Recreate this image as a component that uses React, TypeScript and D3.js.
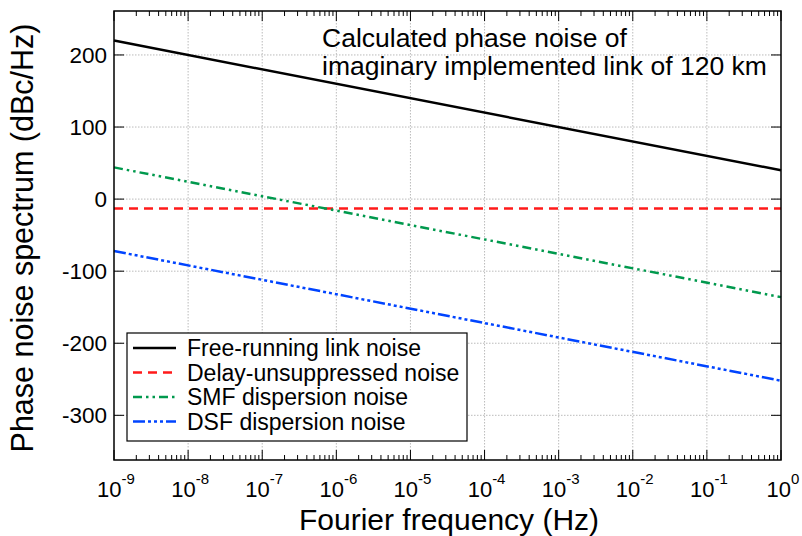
import React, { useEffect, useRef } from "react";
import * as d3 from "d3";

const freqs = [1e-9, 1e0];
const freeRunning = [220, 40];
const delayUnsuppressed = [-13, -13];
const smfDispersion = [44, -136];
const dsfDispersion = [-72, -252];
const xTicks = [-9, -8, -7, -6, -5, -4, -3, -2, -1, 0];
const yTicks = [-300, -200, -100, 0, 100, 200];
const seriesNames = [
  "Free-running link noise",
  "Delay-unsuppressed noise",
  "SMF dispersion noise",
  "DSF dispersion noise",
];

const W = 802, H = 536;
const M = { left: 114, right: 781, top: 11, bottom: 460 };

export default function App() {
  const ref = useRef<SVGSVGElement>(null);
  useEffect(() => {
    const svg = d3.select(ref.current);
    svg.selectAll("*").remove();
    const x = d3.scaleLog().domain([1e-9, 1]).range([M.left, M.right]);
    const y = d3.scaleLinear().domain([-362, 261]).range([M.bottom, M.top]);
    const font = "'Liberation Sans', Arial, sans-serif";

    // grid
    const g = svg.append("g");
    xTicks.slice(1, -1).forEach((e) => {
      g.append("line").attr("x1", x(10 ** e)).attr("x2", x(10 ** e))
        .attr("y1", M.top).attr("y2", M.bottom)
        .attr("stroke", "#aaa").attr("stroke-width", 0.8).attr("stroke-dasharray", "1.5,1.5");
    });
    yTicks.forEach((v) => {
      g.append("line").attr("x1", M.left).attr("x2", M.right)
        .attr("y1", y(v)).attr("y2", y(v))
        .attr("stroke", "#aaa").attr("stroke-width", 0.8).attr("stroke-dasharray", "1.5,1.5");
    });

    // ticks
    const t = svg.append("g").attr("stroke", "#000").attr("stroke-width", 1);
    for (let e = -9; e <= 0; e++) {
      const xv = x(10 ** e);
      t.append("line").attr("x1", xv).attr("x2", xv).attr("y1", M.bottom).attr("y2", M.bottom - 10);
      t.append("line").attr("x1", xv).attr("x2", xv).attr("y1", M.top).attr("y2", M.top + 10);
      if (e < 0) {
        for (let k = 2; k <= 9; k++) {
          const xm = x(k * 10 ** e);
          t.append("line").attr("x1", xm).attr("x2", xm).attr("y1", M.bottom).attr("y2", M.bottom - 5);
          t.append("line").attr("x1", xm).attr("x2", xm).attr("y1", M.top).attr("y2", M.top + 5);
        }
      }
    }
    yTicks.forEach((v) => {
      t.append("line").attr("x1", M.left).attr("x2", M.left + 10).attr("y1", y(v)).attr("y2", y(v));
      t.append("line").attr("x1", M.right).attr("x2", M.right - 10).attr("y1", y(v)).attr("y2", y(v));
    });

    // lines
    const line = d3.line<[number, number]>().x((d) => x(d[0])).y((d) => y(d[1]));
    const series = [
      { v: freeRunning, c: "#000000", dash: null, w: 2.5 },
      { v: delayUnsuppressed, c: "#ff1a1a", dash: "9,6", w: 2.5 },
      { v: smfDispersion, c: "#00994d", dash: "9,4,2.5,4,2.5,4", w: 2.5 },
      { v: dsfDispersion, c: "#0044ff", dash: "12,3,3,3,3,3,3,3", w: 2.5 },
    ];
    series.forEach((s) => {
      const pts: [number, number][] = freqs.map((f, i) => [f, s.v[i]]);
      svg.append("path").attr("d", line(pts)).attr("fill", "none")
        .attr("stroke", s.c).attr("stroke-width", s.w)
        .attr("stroke-dasharray", s.dash as any);
    });

    // frame
    svg.append("rect").attr("x", M.left).attr("y", M.top)
      .attr("width", M.right - M.left).attr("height", M.bottom - M.top)
      .attr("fill", "none").attr("stroke", "#000").attr("stroke-width", 1.5);

    // y tick labels
    yTicks.forEach((v) => {
      svg.append("text").attr("x", M.left - 7).attr("y", y(v) + 8)
        .attr("text-anchor", "end").attr("font-family", font).attr("font-size", 22.5)
        .text(v);
    });
    // x tick labels
    xTicks.forEach((e) => {
      const tx = svg.append("text").attr("x", x(10 ** e) + 2).attr("y", 497)
        .attr("text-anchor", "middle").attr("font-family", font).attr("font-size", 22);
      tx.append("tspan").text("10");
      tx.append("tspan").attr("dy", -13).attr("font-size", 15).text(String(e));
    });

    // axis titles
    svg.append("text").attr("x", 449).attr("y", 530)
      .attr("text-anchor", "middle").attr("font-family", font).attr("font-size", 30)
      .text("Fourier frequency (Hz)");
    svg.append("text").attr("transform", `translate(33,238) rotate(-90)`)
      .attr("text-anchor", "middle").attr("font-family", font).attr("font-size", 30.5)
      .text("Phase noise spectrum (dBc/Hz)");

    // annotation
    svg.append("text").attr("x", 322).attr("y", 47).attr("font-family", font).attr("font-size", 26.5)
      .text("Calculated phase noise of");
    svg.append("text").attr("x", 322).attr("y", 75).attr("font-family", font).attr("font-size", 26.5)
      .text("imaginary implemented link of 120 km");

    // legend
    const lg = svg.append("g");
    lg.append("rect").attr("x", 127).attr("y", 333).attr("width", 340).attr("height", 108)
      .attr("fill", "#fff").attr("stroke", "#000").attr("stroke-width", 1.2);
    series.forEach((s, i) => {
      const cy = 348 + i * 24.5;
      lg.append("line").attr("x1", 133).attr("x2", 176).attr("y1", cy).attr("y2", cy)
        .attr("stroke", s.c).attr("stroke-width", s.w).attr("stroke-dasharray", s.dash as any);
      lg.append("text").attr("x", 187).attr("y", cy + 8).attr("font-family", font).attr("font-size", 23)
        .text(seriesNames[i]);
    });
  }, []);
  return <svg ref={ref} width={W} height={H} style={{ display: "block", position: "absolute", left: 0, top: 0 }} />;
}
